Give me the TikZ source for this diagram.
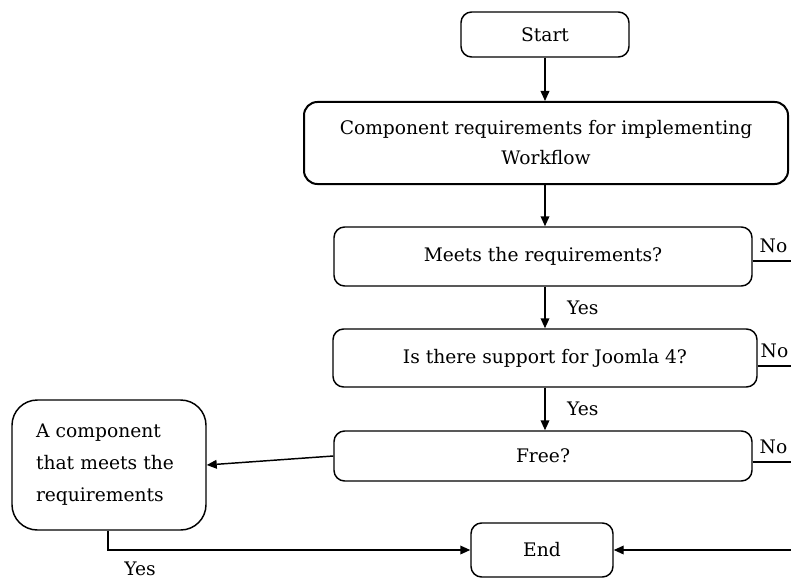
\documentclass[tikz,border=0pt]{standalone}
\usepackage{fontspec}
\setmainfont{DejaVu Serif}
\usetikzlibrary{arrows.meta}

\tikzset{
  stepbox/.style={draw, rounded corners=8pt, line width=1.1pt, inner sep=0pt, align=center},
  flow/.style={line width=1.1pt, -{Triangle[length=7.5pt,width=6.5pt]}},
  plain/.style={line width=1.1pt},
  lbl/.style={inner sep=2pt}
}

\begin{document}
\begin{tikzpicture}[x=0.75pt, y=-0.75pt, font=\fontsize{14}{22.5}\selectfont]
\useasboundingbox (0,0) rectangle (791,581);

\node[stepbox, minimum width=126pt, minimum height=33.75pt] (start) at (545,34.5) {Start};
\node[stepbox, rounded corners=10pt, line width=1.5pt, minimum width=363pt, minimum height=61.5pt] (comp) at (546,143) {Component requirements for implementing\\Workflow};
\node[stepbox, minimum width=313.5pt, minimum height=44.25pt] (meets) at (543,256.5) {Meets the requirements?};
\node[stepbox, minimum width=318pt, minimum height=43.5pt] (joomla) at (545,358) {Is there support for Joomla 4?};
\node[stepbox, minimum width=313.5pt, minimum height=37.5pt] (free) at (543,456) {Free?};
\node[stepbox, rounded corners=19pt, align=left, text width=109.5pt, minimum width=145.5pt, minimum height=97.5pt, font=\fontsize{14}{24}\selectfont] (found) at (109,465) {A component\\that meets the\\requirements};
\node[stepbox, minimum width=106.5pt, minimum height=40.5pt] (end) at (542,550) {End};

% main line
\coordinate (trunk) at (545,0);
\draw[flow] (start.south -| trunk) -- (comp.north -| trunk);
\draw[flow] (comp.south -| trunk) -- (meets.north -| trunk);
\draw[flow] (meets.south -| trunk) -- node[lbl, right=14pt] {Yes} (joomla.north -| trunk);
\draw[flow] (joomla.south -| trunk) -- node[lbl, right=14pt] {Yes} (free.north -| trunk);
\draw[flow] (free.west) -- (found.east);

% exits to the right
\coordinate (no1) at (791,261);
\coordinate (no2) at (791,366);
\coordinate (no3) at (791,462);
\coordinate (back) at (791,550);
\draw[plain] (meets.east |- no1) -- (no1);
\draw[plain] (joomla.east |- no2) -- (no2);
\draw[plain] (free.east |- no3) -- (no3);
\node[lbl, anchor=south west, xshift=3pt, yshift=4pt] at (meets.east |- no1) {No};
\node[lbl, anchor=south west, xshift=0pt, yshift=4pt] at (joomla.east |- no2) {No};
\node[lbl, anchor=south west, xshift=3pt, yshift=4pt] at (free.east |- no3) {No};
\draw[flow] (back) -- (end.east);

% yes from the found component
\coordinate (turn) at (108,550);
\draw[flow] (found.south -| turn) -- (turn) -- (end.west);
\node[lbl] at (140,569) {Yes};

\end{tikzpicture}
\end{document}
